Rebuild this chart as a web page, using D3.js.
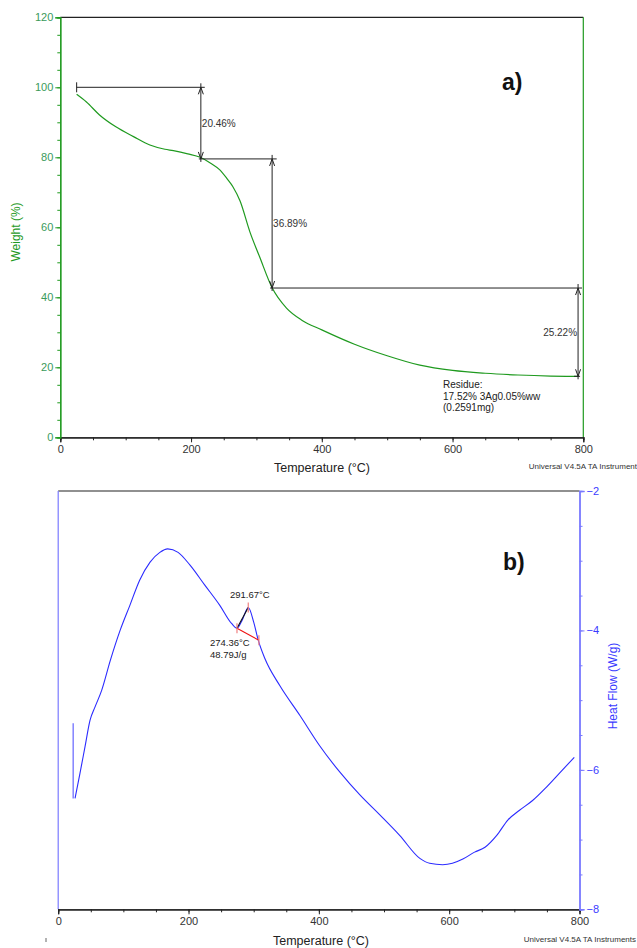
<!DOCTYPE html>
<html>
<head>
<meta charset="utf-8">
<script src="https://cdn.jsdelivr.net/npm/d3@7"></script>
<style>
  html, body { margin: 0; padding: 0; background: #fff; }
  svg { display: block; font-family: 'Liberation Sans', Arial, sans-serif; }
</style>
</head>
<body>
<div id="chart"></div>
<script>
// TGA (a)
const tgaTemp = [25, 40, 60, 85, 112, 137, 160, 173, 195, 214, 230, 244, 255, 264, 275, 290, 305, 324, 346, 370, 400, 450, 500, 550, 600, 650, 700, 750, 792];
const tgaWeight = [98, 95.8, 92.1, 88.7, 85.9, 83.5, 82.3, 81.9, 81.0, 80.0, 78.3, 76.4, 73.9, 71.6, 67.5, 58.7, 51.5, 42.7, 36.9, 33.4, 30.7, 26.6, 23.3, 20.6, 19.1, 18.3, 17.8, 17.5, 17.4];
const weightTicks = [0, 20, 40, 60, 80, 100, 120];
const tempTicks = [0, 200, 400, 600, 800];
const stepTemps = [25, 215, 324, 792];
const stepLevels = [100, 79.54, 42.65, 17.43];
const stepLabels = ['20.46%', '36.89%', '25.22%'];
const residueLines = ['Residue:', '17.52% 3Ag0.05%ww', '(0.2591mg)'];

// DSC (b)
const dscTemp = [25.8, 33.4, 41.1, 48.8, 56.4, 66.7, 80, 95, 110, 125, 141, 156, 168, 184, 202, 225, 248, 266, 274.4, 282, 291.7, 300, 307, 317, 340, 371, 401, 432, 463, 494, 524, 555, 570, 590, 605, 621, 639, 655, 673, 690, 708, 728, 749, 769, 792];
const dscHeat = [-6.41, -6.05, -5.67, -5.29, -5.10, -4.86, -4.43, -4.00, -3.64, -3.28, -3.02, -2.88, -2.83, -2.88, -3.06, -3.35, -3.64, -3.90, -3.97, -3.86, -3.67, -3.88, -4.14, -4.40, -4.79, -5.22, -5.65, -6.03, -6.36, -6.65, -6.94, -7.27, -7.34, -7.36, -7.34, -7.28, -7.18, -7.11, -6.94, -6.72, -6.58, -6.44, -6.25, -6.05, -5.82];
const dscStartTemp = [23, 23];
const dscStartHeat = [-5.33, -6.41];
const heatTicks = [-2, -4, -6, -8];
const peakTemp = [274.36, 291.67, 308];
const peakHeat = [-3.97, -3.67, -4.14];

const W = 637, H = 948;
const svg = d3.select('#chart').append('svg')
  .attr('width', W)
  .attr('height', H);

const green = '#1f9a1f';
const greenText = '#3a9a5a';
const blue = '#2b2bff';
const lightBlue = '#7a7aff';

// ---------- top chart ----------
const x1 = d3.scaleLinear().domain([0, 800]).range([60.3, 583.3]);
const y1 = d3.scaleLinear().domain([0, 120]).range([437.3, 17.3]);

const gTop = svg.append('g');

// frame
gTop.append('line').attr('x1', x1(0)).attr('x2', x1(800)).attr('y1', y1(120)).attr('y2', y1(120))
  .attr('stroke', '#222').attr('stroke-width', 1.2);
gTop.append('line').attr('x1', x1(800)).attr('x2', x1(800)).attr('y1', y1(120)).attr('y2', y1(0))
  .attr('stroke', green).attr('stroke-width', 1.2);

const xMinor1 = gTop.append('g').attr('transform', `translate(0,${y1(0)})`)
  .call(d3.axisBottom(x1).tickValues(d3.range(0, 801, 50)).tickSize(3).tickFormat(''));
const xMajor1 = gTop.append('g').attr('transform', `translate(0,${y1(0)})`)
  .call(d3.axisBottom(x1).tickValues(tempTicks).tickSize(5).tickPadding(3).tickFormat(d3.format('d')));
[xMinor1, xMajor1].forEach((a) => {
  a.select('.domain').attr('stroke', '#222').attr('stroke-width', 1.2);
  a.selectAll('line').attr('stroke', '#222');
  a.selectAll('text').attr('font-size', 11).attr('fill', '#333');
});

const yMinor1 = gTop.append('g').attr('transform', `translate(${x1(0)},0)`)
  .call(d3.axisLeft(y1).tickValues(d3.range(0, 121, 5)).tickSize(3).tickFormat(''));
const yMajor1 = gTop.append('g').attr('transform', `translate(${x1(0)},0)`)
  .call(d3.axisLeft(y1).tickValues(weightTicks).tickSize(5).tickPadding(2).tickFormat(d3.format('d')));
[yMinor1, yMajor1].forEach((a) => {
  a.select('.domain').attr('stroke', green).attr('stroke-width', 1.2);
  a.selectAll('line').attr('stroke', green);
  a.selectAll('text').attr('font-size', 11).attr('fill', greenText);
});

gTop.append('text')
  .attr('transform', 'translate(20,232) rotate(-90)')
  .attr('text-anchor', 'middle')
  .attr('font-size', 12)
  .attr('fill', green)
  .text('Weight (%)');

gTop.append('text')
  .attr('x', 322).attr('y', 472)
  .attr('text-anchor', 'middle')
  .attr('font-size', 12.5)
  .attr('fill', '#222')
  .text('Temperature (°C)');

gTop.append('text')
  .attr('x', 637).attr('y', 469)
  .attr('text-anchor', 'end')
  .attr('font-size', 8)
  .attr('fill', '#333')
  .text('Universal V4.5A TA Instrument');

gTop.append('text')
  .attr('x', 502).attr('y', 90)
  .attr('font-size', 23)
  .attr('font-weight', 'bold')
  .attr('fill', '#111')
  .text('a)');

// TGA curve
const tgaLine = d3.line()
  .x((d, i) => x1(tgaTemp[i]))
  .y((d) => y1(d))
  .curve(d3.curveMonotoneX);
gTop.append('path')
  .datum(tgaWeight)
  .attr('fill', 'none')
  .attr('stroke', green)
  .attr('stroke-width', 1.2)
  .attr('d', tgaLine);

// step annotations
const annot = gTop.append('g').attr('stroke', '#222').attr('stroke-width', 1).attr('fill', 'none');
// start tick
annot.append('line')
  .attr('x1', x1(stepTemps[0])).attr('x2', x1(stepTemps[0]))
  .attr('y1', y1(stepLevels[0]) - 5).attr('y2', y1(stepLevels[0]) + 5);

const hEnds = [x1(221), x1(331), x1(798)];
for (let i = 0; i < 3; i += 1) {
  const xs = i === 0 ? x1(stepTemps[0]) : x1(stepTemps[i]) - 2;
  annot.append('line')
    .attr('x1', xs).attr('x2', hEnds[i])
    .attr('y1', y1(stepLevels[i])).attr('y2', y1(stepLevels[i]));
  const ax = x1(stepTemps[i + 1]);
  const ya = y1(stepLevels[i]);
  const yb = y1(stepLevels[i + 1]);
  annot.append('line').attr('x1', ax).attr('x2', ax).attr('y1', ya - 4).attr('y2', yb + 3);
  annot.append('path').attr('d', `M${ax - 2.5},${ya + 7}L${ax},${ya}L${ax + 2.5},${ya + 7}`);
  annot.append('path').attr('d', `M${ax - 2.5},${yb - 7}L${ax},${yb}L${ax + 2.5},${yb - 7}`);
}
annot.append('line')
  .attr('x1', x1(stepTemps[3]) - 4).attr('x2', x1(stepTemps[3]) + 2)
  .attr('y1', y1(stepLevels[3])).attr('y2', y1(stepLevels[3]));

gTop.append('text').attr('x', x1(stepTemps[1]) + 1).attr('y', (y1(stepLevels[0]) + y1(stepLevels[1])) / 2 + 4)
  .attr('font-size', 10).attr('fill', '#333').text(stepLabels[0]);
gTop.append('text').attr('x', x1(stepTemps[2]) + 1).attr('y', (y1(stepLevels[1]) + y1(stepLevels[2])) / 2 + 4)
  .attr('font-size', 10).attr('fill', '#333').text(stepLabels[1]);
gTop.append('text').attr('x', x1(stepTemps[3]) - 1).attr('y', (y1(stepLevels[2]) + y1(stepLevels[3])) / 2 + 4)
  .attr('text-anchor', 'end').attr('font-size', 10).attr('fill', '#333').text(stepLabels[2]);

gTop.append('g').selectAll('text')
  .data(residueLines)
  .join('text')
  .attr('x', 443)
  .attr('y', (d, i) => 388 + i * 11.7)
  .attr('font-size', 10)
  .attr('fill', '#222')
  .text((d) => d);

// ---------- bottom chart ----------
const x2 = d3.scaleLinear().domain([0, 800]).range([58.2, 579.5]);
const y2 = d3.scaleLinear().domain([-8, -2]).range([909.3, 491]);

const gBot = svg.append('g');

gBot.append('line').attr('x1', x2(0)).attr('x2', x2(800)).attr('y1', y2(-2)).attr('y2', y2(-2))
  .attr('stroke', '#222').attr('stroke-width', 1.2);
gBot.append('line').attr('x1', x2(0)).attr('x2', x2(0)).attr('y1', y2(-2)).attr('y2', y2(-8))
  .attr('stroke', lightBlue).attr('stroke-width', 1.2);

const xMinor2 = gBot.append('g').attr('transform', `translate(0,${y2(-8)})`)
  .call(d3.axisBottom(x2).tickValues(d3.range(0, 801, 50)).tickSize(3).tickFormat(''));
const xMajor2 = gBot.append('g').attr('transform', `translate(0,${y2(-8)})`)
  .call(d3.axisBottom(x2).tickValues(tempTicks).tickSize(5).tickPadding(3).tickFormat(d3.format('d')));
[xMinor2, xMajor2].forEach((a) => {
  a.select('.domain').attr('stroke', '#222').attr('stroke-width', 1.2);
  a.selectAll('line').attr('stroke', '#222');
  a.selectAll('text').attr('font-size', 11).attr('fill', '#333');
});

const yMinor2 = gBot.append('g').attr('transform', `translate(${x2(800)},0)`)
  .call(d3.axisRight(y2).tickValues(d3.range(-8, -1.99, 0.5)).tickSize(3).tickFormat(''));
const yMajor2 = gBot.append('g').attr('transform', `translate(${x2(800)},0)`)
  .call(d3.axisRight(y2).tickValues(heatTicks).tickSize(5).tickPadding(2).tickFormat(d3.format('d')));
[yMinor2, yMajor2].forEach((a) => {
  a.select('.domain').attr('stroke', lightBlue).attr('stroke-width', 1.4);
  a.selectAll('line').attr('stroke', lightBlue);
  a.selectAll('text').attr('font-size', 11).attr('fill', '#3b3bff');
});

gBot.append('text')
  .attr('transform', 'translate(617,686) rotate(-90)')
  .attr('text-anchor', 'middle')
  .attr('font-size', 12)
  .attr('fill', '#3b3bff')
  .text('Heat Flow (W/g)');

gBot.append('text')
  .attr('x', 321).attr('y', 945)
  .attr('text-anchor', 'middle')
  .attr('font-size', 12.5)
  .attr('fill', '#222')
  .text('Temperature (°C)');

gBot.append('text')
  .attr('x', 636).attr('y', 942)
  .attr('text-anchor', 'end')
  .attr('font-size', 8)
  .attr('fill', '#333')
  .text('Universal V4.5A TA Instruments');

gBot.append('line').attr('x1', 46).attr('x2', 46).attr('y1', 938).attr('y2', 942)
  .attr('stroke', '#666').attr('stroke-width', 1);

gBot.append('text')
  .attr('x', 503).attr('y', 570)
  .attr('font-size', 23)
  .attr('font-weight', 'bold')
  .attr('fill', '#111')
  .text('b)');

// DSC curve
const dscLine = d3.line()
  .x((d, i) => x2(dscTemp[i]))
  .y((d) => y2(d))
  .curve(d3.curveMonotoneX);
gBot.append('path')
  .datum(dscHeat)
  .attr('fill', 'none')
  .attr('stroke', blue)
  .attr('stroke-width', 1.1)
  .attr('d', dscLine);

gBot.append('path')
  .datum(dscStartHeat)
  .attr('fill', 'none')
  .attr('stroke', lightBlue)
  .attr('stroke-width', 1.4)
  .attr('d', d3.line().x((d, i) => x2(dscStartTemp[i])).y((d) => y2(d)));

// peak annotation
const px = peakTemp.map((t) => x2(t));
const py = peakHeat.map((v) => y2(v));
gBot.append('line').attr('x1', px[0]).attr('y1', py[0]).attr('x2', px[1]).attr('y2', py[1])
  .attr('stroke', '#111').attr('stroke-width', 1.1);
gBot.append('line').attr('x1', px[0]).attr('y1', py[0]).attr('x2', px[2]).attr('y2', py[2])
  .attr('stroke', '#ee1111').attr('stroke-width', 1.1);
gBot.append('g').selectAll('line')
  .data(px)
  .join('line')
  .attr('x1', (d) => d).attr('x2', (d) => d)
  .attr('y1', (d, i) => py[i] - 5).attr('y2', (d, i) => py[i] + 5)
  .attr('stroke', '#f08080').attr('stroke-width', 1.2);

gBot.append('text').attr('x', 230).attr('y', 598)
  .attr('font-size', 9.5).attr('fill', '#222').text(`${peakTemp[1].toFixed(2)}°C`);
gBot.append('text').attr('x', 210).attr('y', 646)
  .attr('font-size', 9.5).attr('fill', '#222').text(`${peakTemp[0].toFixed(2)}°C`);
gBot.append('text').attr('x', 210).attr('y', 658)
  .attr('font-size', 9.5).attr('fill', '#222').text('48.79J/g');
</script>
</body>
</html>
